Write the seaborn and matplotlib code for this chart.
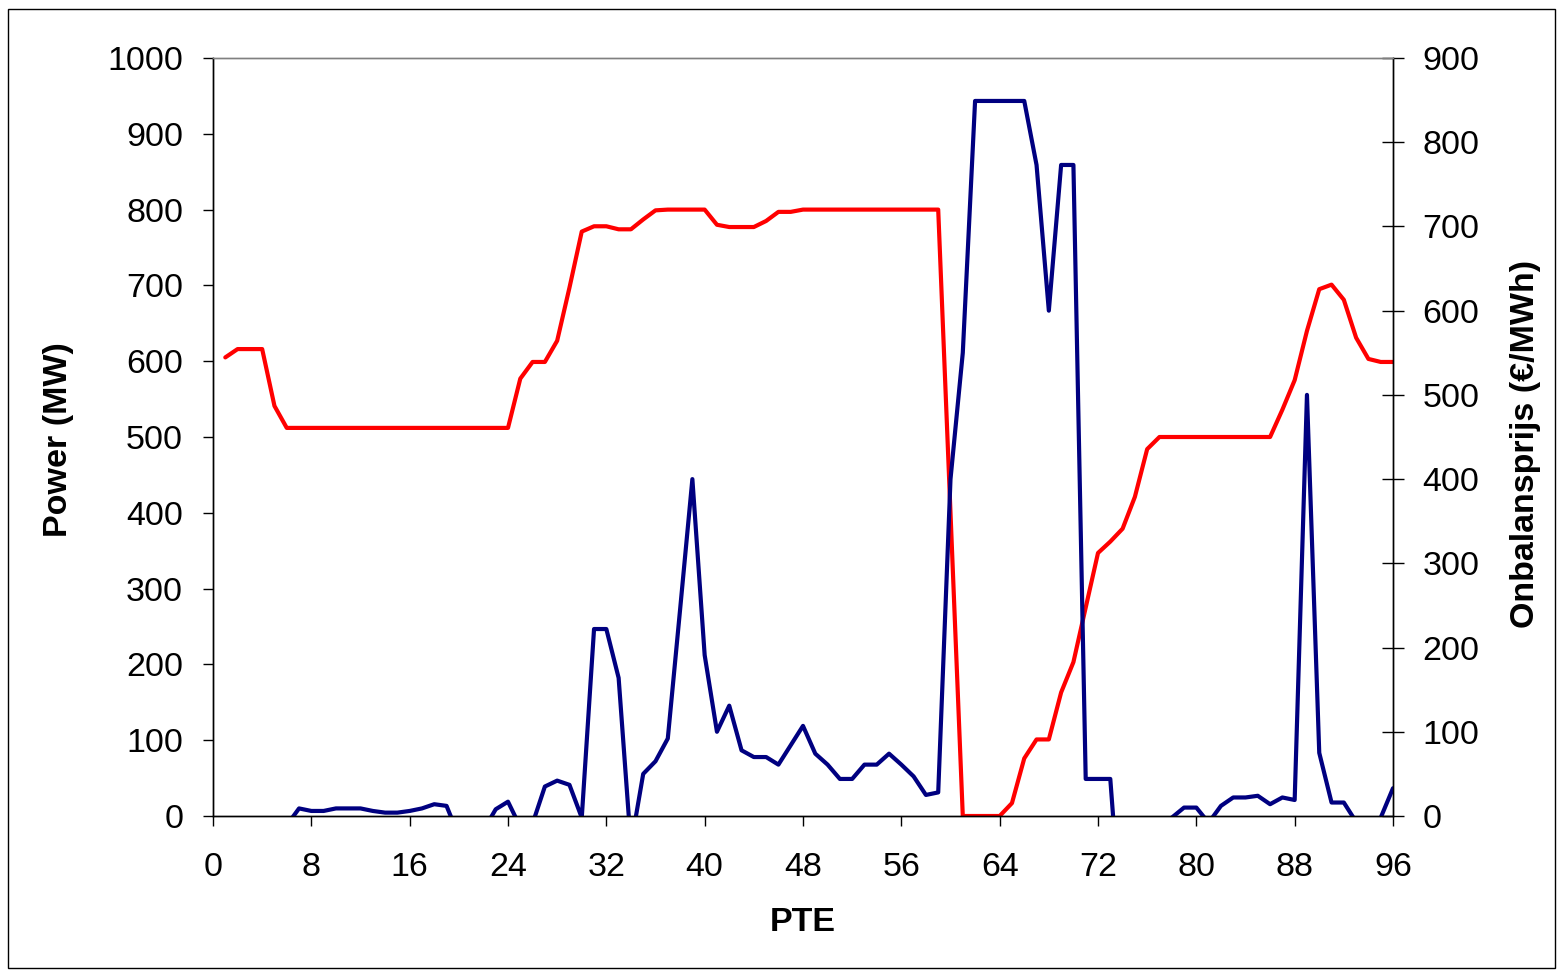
import matplotlib
matplotlib.use("Agg")
import matplotlib.pyplot as plt
import seaborn as sns
import pandas as pd
import numpy as np
from matplotlib.patches import Rectangle

# ---------------- data ----------------
pte = list(range(1, 97))

power_mw = [
    605, 616, 616, 616, 541, 512,
    512, 512, 512, 512, 512, 512, 512, 512, 512, 512, 512, 512, 512, 512, 512, 512, 512, 512,
    577, 599, 599, 627, 697, 771, 778, 778, 774, 774, 787, 799,
    800, 800, 800, 800, 780, 777, 777, 777, 785, 797, 797, 800,
    800, 800, 800, 800, 800, 800, 800, 800, 800, 800, 800,
    400, 0, 0, 0, 0, 17, 76, 101, 101, 163, 203, 275, 347, 362, 379, 421, 484,
    500, 500, 500, 500, 500, 500, 500, 500, 500, 500,
    536, 575, 640, 695, 701, 681, 631, 603, 599, 599,
]

price_eur = [
    -20, -25, -30, -30, -25, -11,
    9, 6, 6, 9, 9, 9, 6, 4, 4, 6, 9, 14, 12, -24, -30, -17, 8, 17,
    -13, -9, 35, 42, 37, -2, 222, 222, 164, -35, 50, 65,
    92, 245, 400, 191, 100, 131, 78, 70, 70, 61, 84, 107,
    74, 61, 44, 44, 61, 61, 74, 61, 47, 25, 28,
    400, 550, 849, 849, 849, 849, 849, 773, 600, 773, 773, 44, 44, 44, -150, -60, -40,
    -20, -2, 10, 10, -8, 12, 22, 22, 24, 14,
    22, 19, 500, 75, 16, 16, -7, -15, -2, 33,
]

x_ticks = list(range(0, 97, 8))
left_ticks = list(range(0, 1001, 100))
right_ticks = list(range(0, 901, 100))

df = pd.DataFrame({"PTE": pte, "Power": power_mw, "Prijs": price_eur})

# ---------------- style ----------------
sns.set_theme(style="white")
plt.rcParams["font.family"] = ["Liberation Sans", "DejaVu Sans"]
plt.rcParams["text.color"] = "black"
plt.rcParams["axes.labelcolor"] = "black"
plt.rcParams["xtick.color"] = "black"
plt.rcParams["ytick.color"] = "black"

W, H = 1558, 971
fig = plt.figure(figsize=(W / 100, H / 100), dpi=100)
fig.patch.set_facecolor("white")

x0, x1, y0, y1 = 213, 1393, 58, 816
ax = fig.add_axes([x0 / W, (H - y1) / H, (x1 - x0) / W, (y1 - y0) / H])
ax2 = ax.twinx()

sns.lineplot(data=df, x="PTE", y="Power", ax=ax, color="#FF0000", linewidth=3.0,
             solid_joinstyle="round", solid_capstyle="round")
sns.lineplot(data=df, x="PTE", y="Prijs", ax=ax2, color="#000080", linewidth=3.0,
             solid_joinstyle="round", solid_capstyle="round")

fs = 24.5
ax.set_xlim(0, 96)
ax.set_ylim(0, 1000)
ax2.set_ylim(0, 900)
ax.set_xticks(x_ticks)
ax.set_yticks(left_ticks)
ax2.set_yticks(right_ticks)

ax.tick_params(axis="x", direction="out", length=7.5, width=1.0, color="black",
               labelcolor="black", labelsize=fs, pad=18.5, bottom=True)
ax.tick_params(axis="y", direction="out", length=7.5, width=1.0, color="black",
               labelcolor="black", labelsize=fs, pad=14, left=True)
ax2.tick_params(axis="y", direction="inout", length=16.5, width=1.0, color="black",
                labelcolor="black", labelsize=fs, pad=13, right=True)

for a in (ax, ax2):
    for s in a.spines.values():
        s.set_linewidth(1.0)
    a.spines["top"].set_color("#808080")
    a.spines["left"].set_color("black")
    a.spines["right"].set_color("black")
    a.spines["bottom"].set_color("black")
    a.grid(False)
ax.patch.set_visible(False)

ax.set_xlabel("PTE", fontsize=fs, fontweight="bold", va="center", color="black")
ax.xaxis.set_label_coords(0.5, -0.141)
ax.set_ylabel("Power (MW)", fontsize=fs, fontweight="bold", va="center", ha="center",
              color="black")
ax.yaxis.set_label_coords(-0.131, 0.496)
ax2.set_ylabel("Onbalansprijs (€/MWh)", fontsize=fs, fontweight="bold",
               va="center", ha="center", rotation=90, color="black")
ax2.yaxis.set_label_coords(1.112, 0.491)

# outer chart border
fig.patches.append(Rectangle((8 / W, 1 - 968 / H), (1555 - 8) / W, (968 - 9) / H,
                             transform=fig.transFigure, fill=False,
                             edgecolor="black", linewidth=1.0))

fig.savefig("out.png", dpi=100, facecolor="white")
